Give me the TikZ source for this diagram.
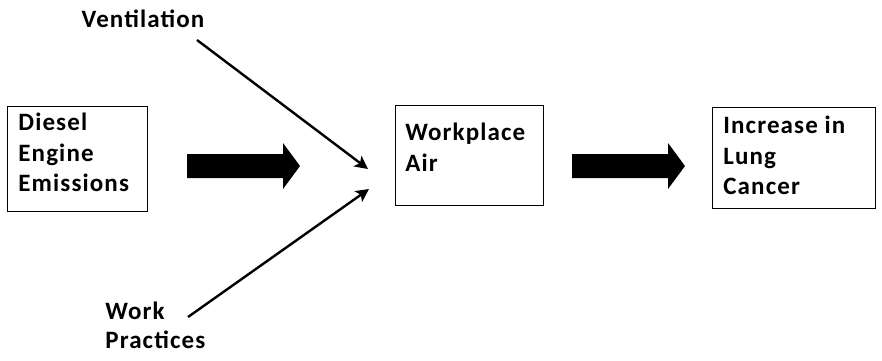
\documentclass[tikz,border=0pt]{standalone}
\usepackage{fontspec}
\setmainfont[LetterSpace=4.5]{Carlito}
\usetikzlibrary{arrows.meta}

\tikzset{every picture/.style={line width=0.75pt}}
\tikzset{
	box/.style={draw, line width=1pt, inner sep=0pt, anchor=north west},
	boxtext/.style={inner sep=0pt, anchor=north west, align=left, font=\fontsize{25}{30.5}\selectfont\bfseries},
	labeltext/.style={inner sep=0pt, align=left, font=\fontsize{25}{28.5}\selectfont\bfseries},
	thin arrow/.style={line width=2.4pt, -{Stealth[length=13pt, width=13pt, inset=3pt]}}
}

\begin{document}
\begin{tikzpicture}[x=1pt,y=1pt,yscale=-1,xscale=1]
	\useasboundingbox (0,0) rectangle (882,360);

	%Shape: Rectangle [id:diesel]
	\node [box, minimum width=140pt, minimum height=105pt] (dieselbox) at (7,106) {};
	%Shape: Rectangle [id:air]
	\node [box, minimum width=148pt, minimum height=100pt] (airbox) at (395,105) {};
	%Shape: Rectangle [id:cancer]
	\node [box, minimum width=163pt, minimum height=101pt] (cancerbox) at (712,107) {};

	% Text Node
	\node [boxtext] (diesel) at (18,113) {Diesel\\Engine\\Emissions};
	% Text Node
	\node [boxtext] (air) at (405,123) {Workplace\\Air};
	% Text Node
	\node [boxtext] (cancer) at (723,116) {Increase in\\Lung\\Cancer};
	% Text Node
	\node [labeltext] (vent) at (143,19) {Ventilation};
	% Text Node
	\node [labeltext, anchor=north west] (work) at (105,302) {Work\\Practices};

	%Shape: Right Arrow [id:big1]
	\fill [shift={(187,166)}] (0,-12) -- (96,-12) -- (96,-23) -- (113,0) -- (96,23) -- (96,12) -- (0,12) -- cycle ;
	%Shape: Right Arrow [id:big2]
	\fill [shift={(572,166)}] (0,-12) -- (96,-12) -- (96,-23) -- (113,0) -- (96,23) -- (96,12) -- (0,12) -- cycle ;

	\coordinate (venttail) at (197,40);
	\coordinate (ventin) at (368,169);
	\coordinate (worktail) at (188,317);
	\coordinate (workin) at (369,189);

	%Straight Lines [id:vent]
	\draw [thin arrow] (venttail) -- (ventin) ;
	%Straight Lines [id:work]
	\draw [thin arrow] (worktail) -- (workin) ;

\end{tikzpicture}
\end{document}
